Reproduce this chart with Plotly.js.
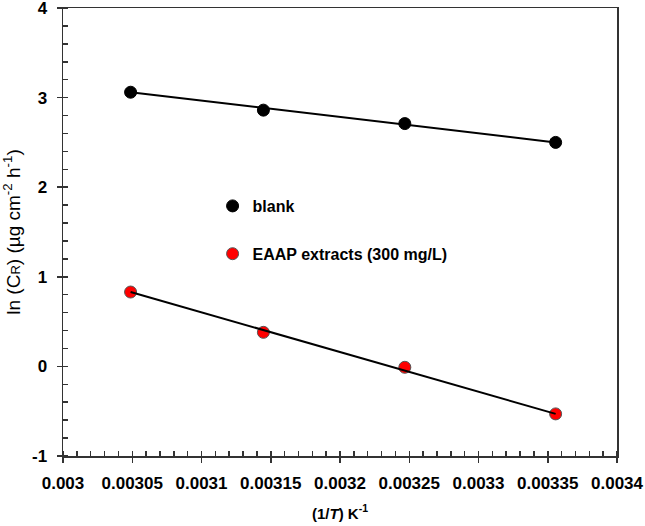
<!DOCTYPE html>
<html>
<head>
<meta charset="utf-8">
<script src="https://cdn.plot.ly/plotly-3.0.1.min.js"></script>
<style>
  html, body { margin: 0; padding: 0; background: #fff; }
  #chart { width: 645px; height: 526px; }
</style>
</head>
<body>
<div id="chart"></div>
<script>
// 1/T values (K^-1) for 328, 318, 308, 298 K
const invT = [0.0030488, 0.0031447, 0.0032468, 0.0033557];

const blankLnCR = [3.06, 2.86, 2.71, 2.50];
const eaapLnCR = [0.83, 0.38, -0.01, -0.53];

const fitX = [0.0030488, 0.0033557];
const blankFit = [3.06, 2.50];
const eaapFit = [0.83, -0.53];

const xTickVals = [0.003, 0.00305, 0.0031, 0.00315, 0.0032, 0.00325, 0.0033, 0.00335, 0.0034];
const xTickText = ["0.003", "0.00305", "0.0031", "0.00315", "0.0032", "0.00325", "0.0033", "0.00335", "0.0034"];
const yTickVals = [-1, 0, 1, 2, 3, 4];
const yTickText = ["-1", "0", "1", "2", "3", "4"];

const FONT = "Arial, 'Liberation Sans', sans-serif";
const AX = "#333";

const data = [
  {
    x: invT, y: blankLnCR, name: "blank", type: "scatter", mode: "markers",
    legendgroup: "a",
    marker: { color: "#000", size: 12, line: { color: "#000", width: 1 } },
  },
  {
    x: invT, y: eaapLnCR, name: "EAAP extracts (300 mg/L)", type: "scatter", mode: "markers",
    legendgroup: "b",
    marker: { color: "#ff0000", size: 12, line: { color: "#555", width: 1 } },
  },
  {
    x: fitX, y: blankFit, type: "scatter", mode: "lines", showlegend: false,
    xaxis: "x2", yaxis: "y2", line: { color: "#000", width: 2 },
  },
  {
    x: fitX, y: eaapFit, type: "scatter", mode: "lines", showlegend: false,
    xaxis: "x2", yaxis: "y2", line: { color: "#000", width: 2 },
  },
];

const xBase = {
  range: [0.003, 0.0034],
  showgrid: false, zeroline: false,
  tickcolor: AX, tickwidth: 1.5,
};
const yBase = {
  range: [-1, 4],
  showgrid: false, zeroline: false,
  tickcolor: AX, tickwidth: 1.5,
};

const layout = {
  width: 645, height: 526,
  margin: { l: 63, r: 28, t: 8, b: 70 },
  paper_bgcolor: "#fff", plot_bgcolor: "#fff",
  font: { family: FONT, color: "#000" },
  showlegend: true,
  legend: {
    x: 0.27, y: 0.596, xanchor: "left", yanchor: "top",
    bgcolor: "rgba(0,0,0,0)",
    font: { family: FONT, size: 16, weight: "bold", color: "#000" },
    traceorder: "grouped", tracegroupgap: 24,
  },
  xaxis: Object.assign({}, xBase, {
    showline: true, mirror: true, linecolor: AX, linewidth: 1.5,
    tickmode: "array", tickvals: xTickVals, ticktext: xTickText,
    ticks: "outside", ticklen: 5, ticklabelstandoff: 6,
    tickfont: { family: FONT, size: 17, weight: "bold", color: "#000" },
    minor: { tickmode: "linear", tick0: 0.003, dtick: 0.00001, ticks: "inside", ticklen: 5, tickcolor: AX, tickwidth: 1.5 },
    title: {
      text: "(1/<i>T</i>) K<sup>-1</sup>",
      font: { family: FONT, size: 15, weight: "bold", color: "#000" },
      standoff: 16,
    },
  }),
  yaxis: Object.assign({}, yBase, {
    showline: true, mirror: true, linecolor: AX, linewidth: 1.5,
    tickmode: "array", tickvals: yTickVals, ticktext: yTickText,
    ticks: "outside", ticklen: 5, ticklabelstandoff: 6,
    ticklabeloverflow: "allow",
    tickfont: { family: FONT, size: 17, weight: "bold", color: "#000" },
    minor: { tickmode: "linear", tick0: 0, dtick: 0.2, ticks: "inside", ticklen: 5, tickcolor: AX, tickwidth: 1.5 },
    title: {
      text: "ln (C<span style=\"font-size:13px\">R</span>) (µg cm<sup>-2</sup> h<sup>-1</sup>)",
      font: { family: FONT, size: 19, color: "#000" },
      standoff: 9,
    },
  }),
  // overlay axes only add the inner half of the major ticks
  xaxis2: Object.assign({}, xBase, {
    overlaying: "x", anchor: "y2", side: "bottom",
    tickmode: "array", tickvals: xTickVals,
    ticks: "inside", ticklen: 5, showticklabels: false, showline: false,
  }),
  yaxis2: Object.assign({}, yBase, {
    overlaying: "y", anchor: "x2", side: "left",
    tickmode: "array", tickvals: yTickVals,
    ticks: "inside", ticklen: 5, showticklabels: false, showline: false,
  }),
};

Plotly.newPlot("chart", data, layout, { displayModeBar: false, staticPlot: true });
</script>
</body>
</html>
